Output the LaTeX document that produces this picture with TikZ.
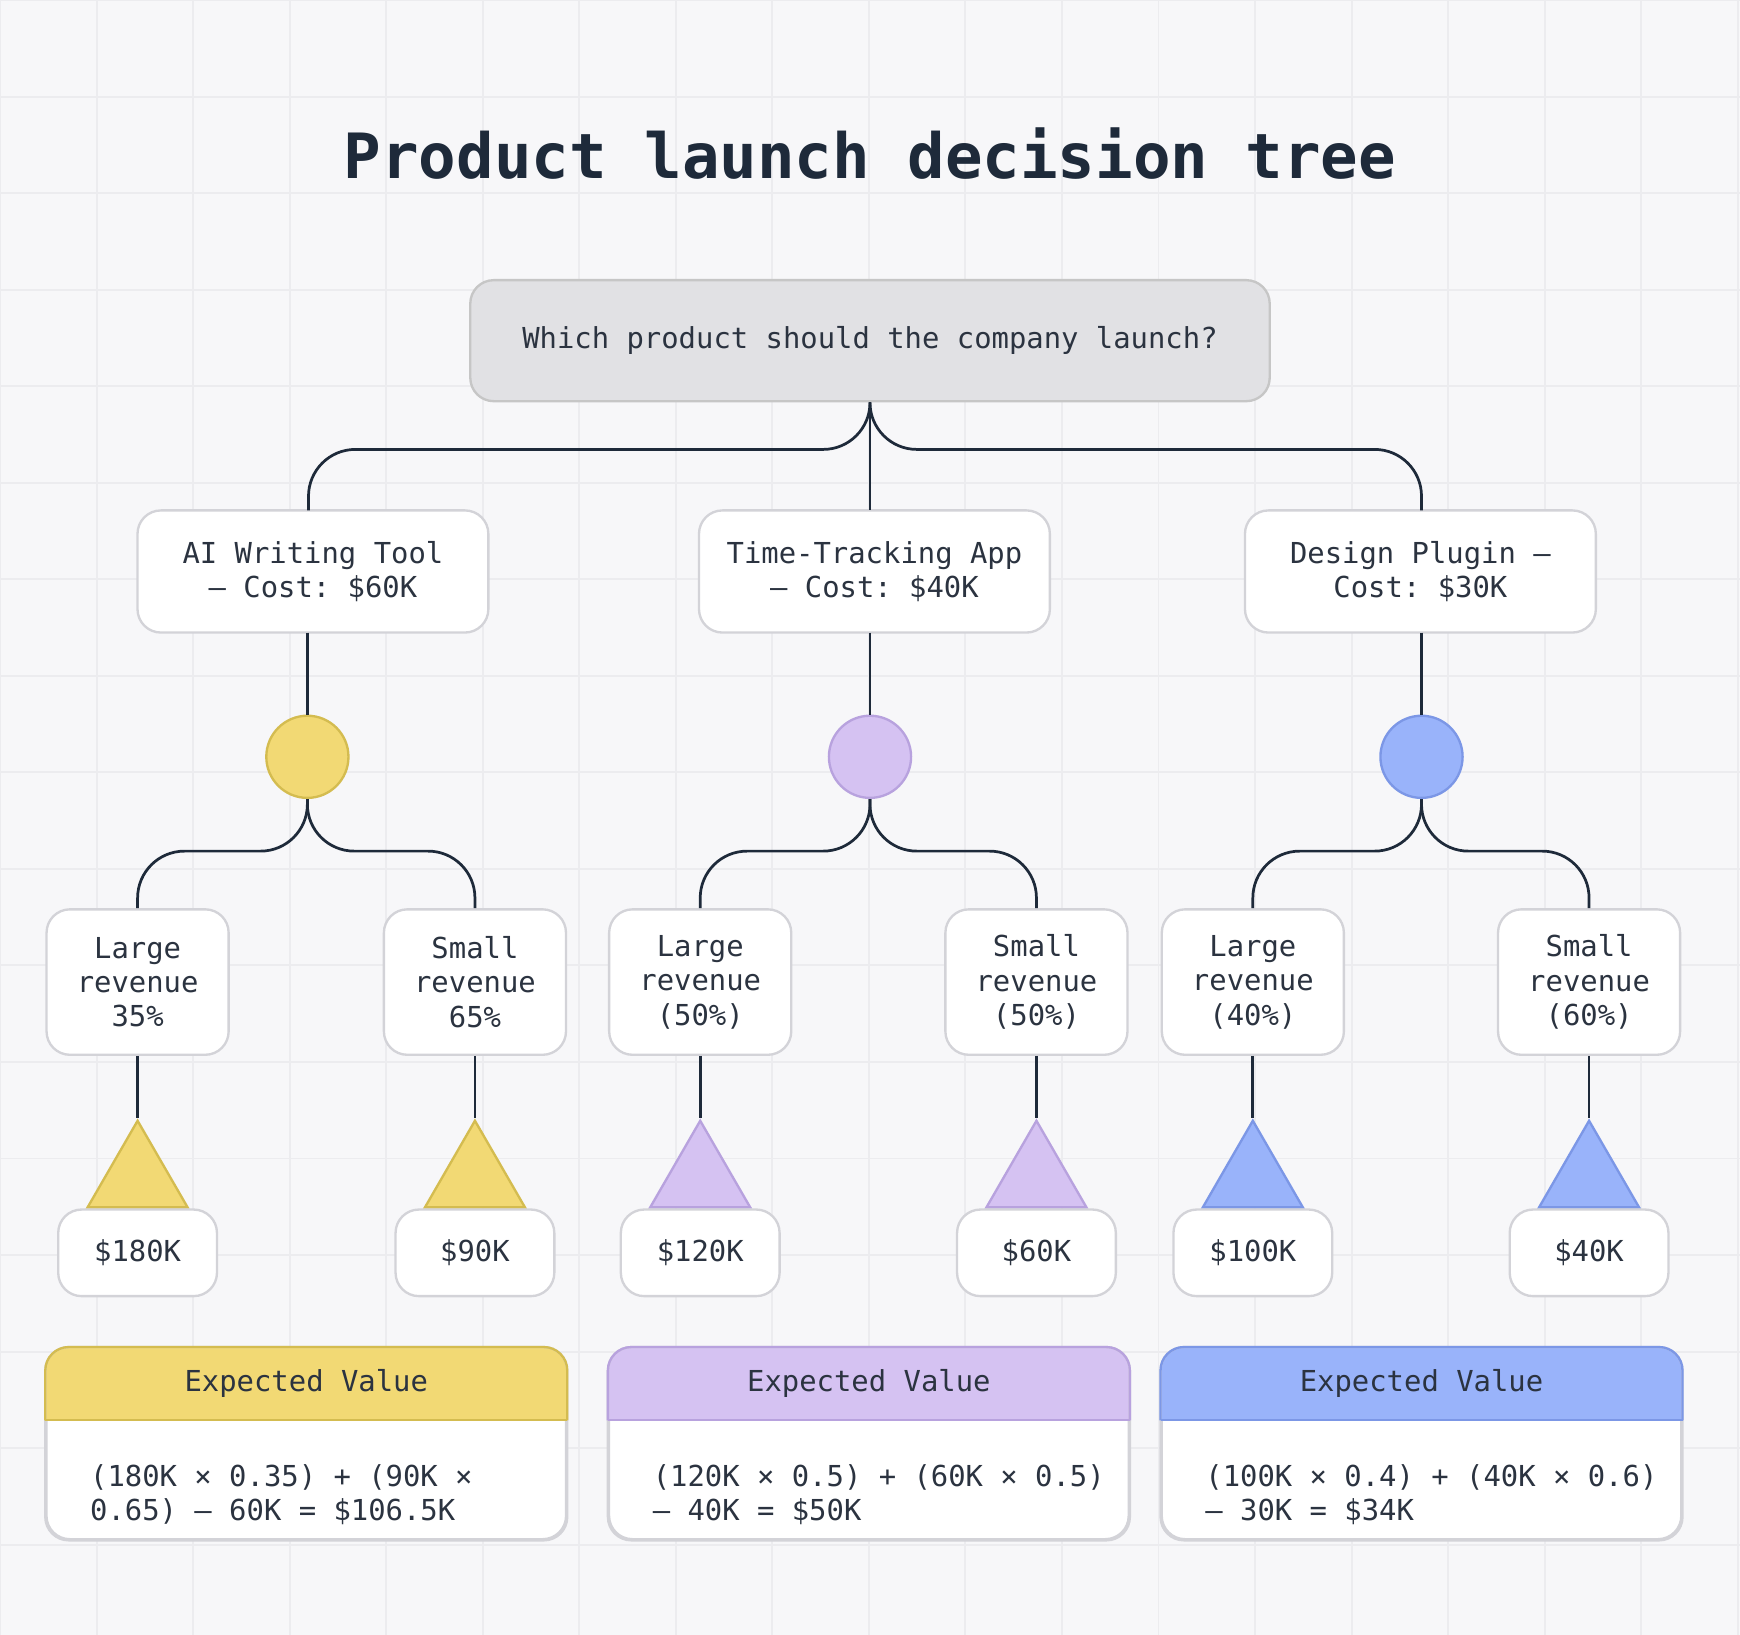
\documentclass[tikz,border=0pt]{standalone}
\usepackage{fontspec}
\setmonofont{DejaVu Sans Mono}
\usetikzlibrary{shapes.geometric}
\definecolor{ink}{HTML}{2B3340}
\definecolor{titleink}{HTML}{1E2A3A}
\definecolor{bgc}{HTML}{F7F7F9}
\definecolor{gridc}{HTML}{ECECEF}
\definecolor{boxline}{HTML}{D3D3D8}
\definecolor{yelf}{HTML}{F2D974}\definecolor{yeld}{HTML}{D4BC50}
\definecolor{purf}{HTML}{D5C2F2}\definecolor{purd}{HTML}{B8A2DE}
\definecolor{bluf}{HTML}{99B3FA}\definecolor{blud}{HTML}{7C97E6}
\tikzset{
  txt/.style={font=\ttfamily\fontsize{7.4}{8.8}\selectfont, text=ink, align=center},
  card/.style={txt, draw=boxline, fill=white, rounded corners=6, line width=0.6pt, inner sep=0pt},
  chance/.style={circle, minimum size=0.74cm, inner sep=0pt, line width=0.6pt},
  leaf/.style={regular polygon, regular polygon sides=3, minimum size=1.04cm, inner sep=0pt, line width=0.6pt},
  link/.style={draw=titleink, line width=0.7pt, rounded corners=12},
}
\begin{document}
\begin{tikzpicture}[x=0.01cm, y=-0.01cm]
\useasboundingbox (0,0) rectangle (1568,1473);
\fill[bgc] (0,0) rectangle (1568,1473);
\foreach \gx in {0,87,...,1568} \draw[gridc, line width=0.5pt] (\gx,0) -- (\gx,1473);
\foreach \gy in {0,87,...,1473} \draw[gridc, line width=0.5pt] (0,\gy) -- (1568,\gy);
\node[font=\ttfamily\bfseries\fontsize{16}{19}\selectfont, text=titleink] (title) at (784,138) {Product launch decision tree};
% question
\node[card, fill=gridc!90!gray, draw=gray!45, minimum width=7.2cm, minimum height=1.09cm] (root) at (784,307) {Which product should the company launch?};
% products
\node[card, minimum width=3.16cm, minimum height=1.1cm] (ai) at (282,515) {AI Writing Tool\\– Cost: \$60K};
\node[card, minimum width=3.16cm, minimum height=1.1cm] (tt) at (788,515) {Time-Tracking App\\– Cost: \$40K};
\node[card, minimum width=3.16cm, minimum height=1.1cm] (dp) at (1280,515) {Design Plugin –\\Cost: \$30K};
\coordinate (jr) at (784,405);
\draw[link] (root.south) -- (jr) -| (278,460);
\draw[link] (root.south) -- (jr) -| (1281,460);
\draw[link] (root.south) -- (784,460);
% chance nodes
\node[chance, fill=yelf, draw=yeld] (cai) at (277,682) {};
\node[chance, fill=purf, draw=purd] (ctt) at (784,682) {};
\node[chance, fill=bluf, draw=blud] (cdp) at (1281,682) {};
\draw[link] (277,570) -- (cai);
\draw[link] (784,570) -- (ctt);
\draw[link] (1281,570) -- (cdp);
% outcomes
\foreach \nm/\cx/\lab/\col/\val/\src in {
  a1/124/Large\\revenue\\35\%/yel/\$180K/cai,
  a2/428/Small\\revenue\\65\%/yel/\$90K/cai,
  t1/631/Large\\revenue\\(50\%)/pur/\$120K/ctt,
  t2/934/Small\\revenue\\(50\%)/pur/\$60K/ctt,
  d1/1129/Large\\revenue\\(40\%)/blu/\$100K/cdp,
  d2/1432/Small\\revenue\\(60\%)/blu/\$40K/cdp}{
  \node[card, minimum width=1.64cm, minimum height=1.31cm] (\nm) at (\cx,885) {\lab};
  \coordinate (\nm-j) at (\src.south |- 0,767);
  \draw[link] (\src.south) -- (\nm-j) -| (\nm.north);
  \node[leaf, fill=\col f, draw=\col d] (\nm-tri) at (\cx,1062) {};
  \draw[link] (\nm.south) -- (\nm-tri.corner 1);
  \node[card, minimum width=1.43cm, minimum height=0.78cm] (\nm-val) at (\cx,1129) {\val};
}
% expected values
\foreach \nm/\cx/\col/\body in {
  eai/276/yel/{(180K × 0.35) + (90K ×\\0.65) – 60K = \$106.5K},
  ett/783/pur/{(120K × 0.5) + (60K × 0.5)\\– 40K = \$50K},
  edp/1281/blu/{(100K × 0.4) + (40K × 0.6)\\– 30K = \$34K}}{
  \node[card, minimum width=4.68cm, minimum height=1.72cm] (\nm) at (\cx,1301) {};
  \fill[\col f, rounded corners=6] (\nm.north west) rectangle ([yshift=-0.66cm]\nm.north east);
  \fill[\col f] ([yshift=-0.3cm]\nm.north west) rectangle ([yshift=-0.66cm]\nm.north east);
  \draw[boxline, rounded corners=6, line width=0.6pt] (\nm.north west) rectangle (\nm.south east);
  \draw[\col d, line width=0.6pt] ([yshift=-0.66cm]\nm.north west) -- ([yshift=-0.66cm]\nm.north east);
  \draw[\col d, rounded corners=6, line width=0.6pt] ([yshift=-0.66cm]\nm.north west) |- (\nm.north) -| ([yshift=-0.66cm]\nm.north east);
  \node[txt] (\nm-head) at ([yshift=-0.33cm]\nm.north) {Expected Value};
  \node[txt, align=left, anchor=north west] (\nm-body) at ([xshift=0.28cm, yshift=-0.93cm]\nm.north west) {\body};
}
\end{tikzpicture}
\end{document}
